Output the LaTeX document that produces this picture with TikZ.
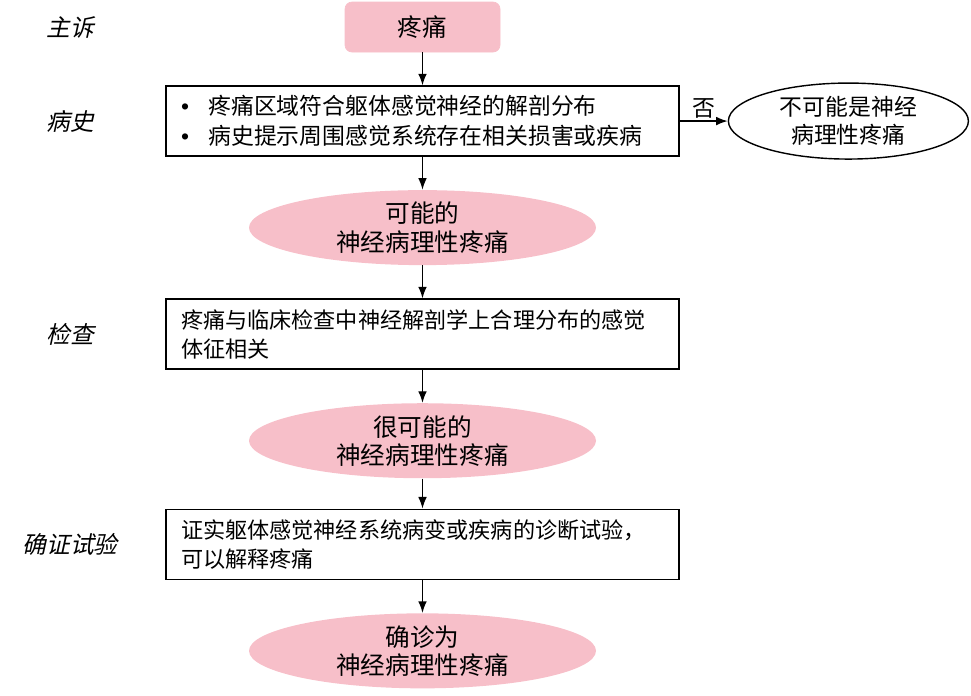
\documentclass[tikz,border=0pt]{standalone}
\usepackage{fontspec}
\setmainfont{Noto Sans CJK SC}
\newfontfamily\sidefont[FakeSlant=0.22]{Noto Sans CJK SC}
\newfontfamily\bulletfont{Liberation Sans}
\usepackage{tikz}
\usetikzlibrary{positioning,arrows.meta,shapes.geometric}
\definecolor{npink}{RGB}{247,191,201}
\newcommand{\histitem}{{\bulletfont\textbullet}\hspace{0.85em}}

\begin{document}
\begin{tikzpicture}[
  node distance=0.66cm,
  topbox/.style={draw=npink, fill=npink, rounded corners=4pt, minimum width=3.1cm,
    minimum height=1.0cm, font=\fontsize{14}{16}\selectfont},
  stepbox/.style={draw, line width=0.8pt, align=left, text width=9.66cm,
    inner xsep=0.3cm, minimum height=1.4cm, font=\fontsize{12.6}{16.5}\selectfont},
  verdict/.style={ellipse, fill=npink, minimum width=6.94cm, minimum height=1.5cm,
    inner sep=0pt, align=center, font=\fontsize{14}{16}\selectfont},
  side/.style={font=\sidefont\fontsize{13.5}{16}\selectfont},
  arrow/.style={-Latex, line width=0.8pt}
]
\useasboundingbox (0,0) rectangle (19.42,-13.9);
\coordinate (xlbl) at (1.4,0);

\node[topbox] (pain) at (8.45,-0.54) {疼痛};
\node[stepbox, below=of pain, font=\fontsize{13}{17}\selectfont] (hist)
  {\histitem 疼痛区域符合躯体感觉神经的解剖分布\\
   \histitem 病史提示周围感觉系统存在相关损害或疾病};
\node[verdict, below=of hist] (possible) {可能的\\神经病理性疼痛};
\node[stepbox, below=of possible] (exam)
  {疼痛与临床检查中神经解剖学上合理分布的感觉\\体征相关};
\node[verdict, below=of exam] (probable) {很可能的\\神经病理性疼痛};
\node[stepbox, below=0.6cm of probable] (confirm)
  {证实躯体感觉神经系统病变或疾病的诊断试验，\\可以解释疼痛};
\node[verdict, below=of confirm] (definite) {确诊为\\神经病理性疼痛};

% negative branch on the right
\node[ellipse, draw, line width=0.8pt, right=0.96cm of hist, minimum width=4.8cm,
  minimum height=1.52cm, inner sep=0pt, align=center,
  font=\fontsize{13}{16}\selectfont] (notnp) {不可能是神经\\病理性疼痛};

% stage labels in the left column
\node[side] (lblmain) at (pain -| xlbl) {主诉};
\node[side] (lblhist) at (hist -| xlbl) {病史};
\node[side] (lblexam) at (exam -| xlbl) {检查};
\node[side] (lblconf) at (confirm -| xlbl) {确证试验};

\draw[arrow] (pain) -- (hist);
\draw[arrow] (hist) -- (possible);
\draw[arrow] (possible) -- (exam);
\draw[arrow] (exam) -- (probable);
\draw[arrow] (probable) -- (confirm);
\draw[arrow] (confirm) -- (definite);
\draw[arrow] (hist) -- node[above, inner sep=1pt, font=\fontsize{13}{16}\selectfont] {否} (notnp);
\end{tikzpicture}
\end{document}
